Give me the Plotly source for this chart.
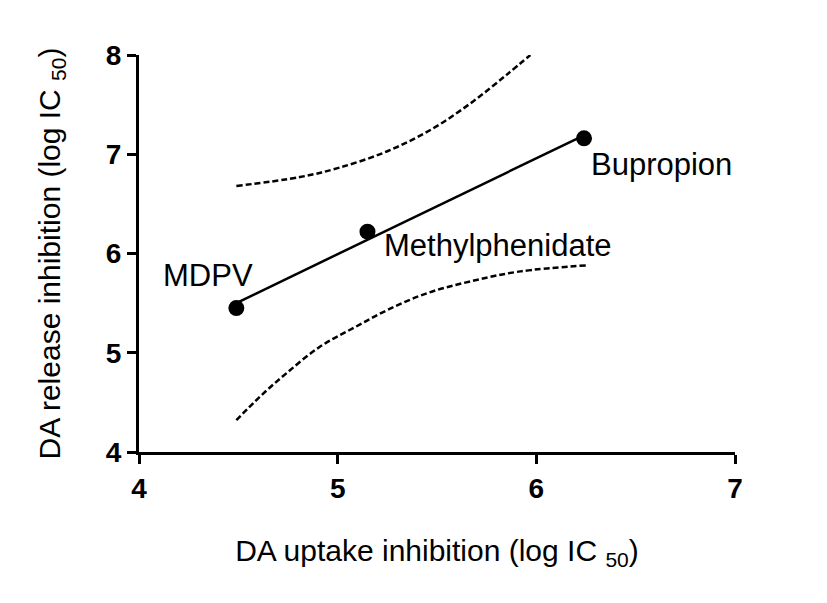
import numpy as np
import plotly.graph_objects as go

# Data
drugs = ["MDPV", "Methylphenidate", "Bupropion"]
uptake = [4.49, 5.15, 6.24]      # DA uptake inhibition (log IC50)
release = [5.45, 6.22, 7.16]     # DA release inhibition (log IC50)

# 95% confidence band
upper_x = [4.49, 4.81, 5.00, 5.25, 5.48, 5.68, 5.85, 5.97]
upper_y = [6.68, 6.77, 6.86, 7.03, 7.26, 7.53, 7.80, 8.00]
lower_x = [4.49, 4.61, 4.74, 4.91, 5.08, 5.25, 5.45, 5.67, 5.92, 6.25]
lower_y = [4.32, 4.56, 4.79, 5.06, 5.25, 5.43, 5.60, 5.72, 5.82, 5.88]

x_ticks = [4, 5, 6, 7]
y_ticks = [4, 5, 6, 7, 8]

slope, intercept = np.polyfit(uptake, release, 1)
fit_x = [min(uptake), max(uptake)]
fit_y = [slope * v + intercept for v in fit_x]

FONT = "Arial, Liberation Sans, sans-serif"

fig = go.Figure()
fig.add_trace(go.Scatter(x=upper_x, y=upper_y, mode="lines",
                         line=dict(color="black", width=2.5, dash="6px,3px"),
                         line_shape="spline", hoverinfo="skip", cliponaxis=False))
fig.add_trace(go.Scatter(x=lower_x, y=lower_y, mode="lines",
                         line=dict(color="black", width=2.5, dash="6px,3px"),
                         line_shape="spline", hoverinfo="skip"))
fig.add_trace(go.Scatter(x=fit_x, y=fit_y, mode="lines",
                         line=dict(color="black", width=2.5)))
fig.add_trace(go.Scatter(x=uptake, y=release, mode="markers",
                         marker=dict(color="black", size=16), text=drugs))

label_cfg = {
    "MDPV": dict(xanchor="center", yanchor="middle", xshift=-28, yshift=33),
    "Methylphenidate": dict(xanchor="left", yanchor="middle", xshift=15, yshift=-14),
    "Bupropion": dict(xanchor="left", yanchor="middle", xshift=5, yshift=-26),
}
for name, xv, yv in zip(drugs, uptake, release):
    fig.add_annotation(x=xv, y=yv, text=name, showarrow=False,
                       font=dict(family=FONT, size=31, color="black"),
                       **label_cfg[name])

fig.update_layout(
    width=827, height=603,
    margin=dict(l=131, r=100, t=47, b=159),
    paper_bgcolor="white", plot_bgcolor="white",
    showlegend=False,
    font=dict(family=FONT, color="black"),
)
fig.update_xaxes(
    range=[4, 7], tickvals=x_ticks, ticktext=[f"<b>{v}</b>" for v in x_ticks],
    showgrid=False, zeroline=False, showline=True, linecolor="black", linewidth=3,
    ticks="outside", ticklen=9, tickwidth=3, tickcolor="black",
    tickfont=dict(family=FONT, size=28, color="black"), automargin=False,
    title=dict(text="DA uptake inhibition (log IC <sub>50</sub>)",
               font=dict(family=FONT, size=30, color="black"), standoff=38),
)
fig.update_yaxes(
    range=[4, 8], tickvals=y_ticks, ticktext=[f"<b>{v}</b>" for v in y_ticks],
    showgrid=False, zeroline=False, showline=True, linecolor="black", linewidth=3,
    ticks="outside", ticklen=9, tickwidth=3, tickcolor="black",
    tickfont=dict(family=FONT, size=28, color="black"), automargin=False,
    title=dict(text="DA release inhibition (log IC <sub>50</sub>)",
               font=dict(family=FONT, size=30, color="black"), standoff=37),
)

fig.write_html("out.html")
